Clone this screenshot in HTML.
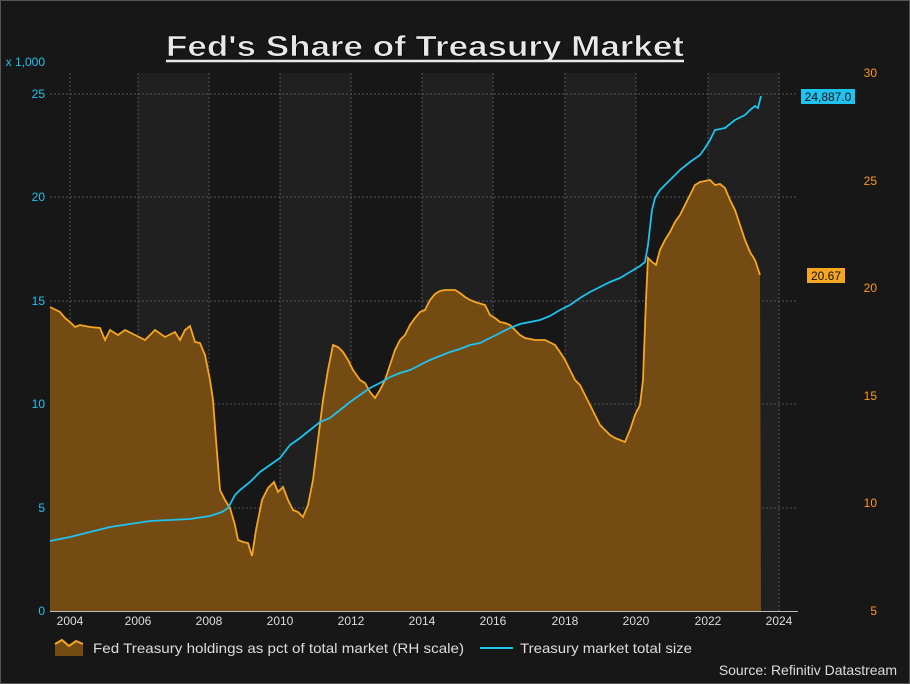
<!DOCTYPE html>
<html><head><meta charset="utf-8"><style>
html,body{margin:0;padding:0;background:#161616;}
svg{display:block;font-family:"Liberation Sans",sans-serif;}
</style></head><body>
<svg width="910" height="684" viewBox="0 0 910 684">
<rect x="0.5" y="0.5" width="909" height="683" fill="#171717" stroke="#555"/>
<g fill="#202020">
<rect x="138" y="73" width="71" height="538"/>
<rect x="280" y="73" width="71" height="538"/>
<rect x="422" y="73" width="71" height="538"/>
<rect x="565" y="73" width="71" height="538"/>
<rect x="708" y="73" width="71" height="538"/>
</g>
<g stroke="#555" stroke-dasharray="2,2" stroke-width="1">
<line x1="50" x2="798" y1="94" y2="94"/><line x1="50" x2="798" y1="197" y2="197"/>
<line x1="50" x2="798" y1="301" y2="301"/><line x1="50" x2="798" y1="404" y2="404"/>
<line x1="50" x2="798" y1="508" y2="508"/>
<line x1="70" x2="70" y1="73" y2="611"/><line x1="138" x2="138" y1="73" y2="611"/>
<line x1="209" x2="209" y1="73" y2="611"/><line x1="280" x2="280" y1="73" y2="611"/>
<line x1="351" x2="351" y1="73" y2="611"/><line x1="422" x2="422" y1="73" y2="611"/>
<line x1="493" x2="493" y1="73" y2="611"/><line x1="565" x2="565" y1="73" y2="611"/>
<line x1="636" x2="636" y1="73" y2="611"/><line x1="708" x2="708" y1="73" y2="611"/>
<line x1="779" x2="779" y1="73" y2="611"/>
</g>
<polygon fill="#744b12" stroke="none" points="50,611 50,307 60,312 65,318 70,322 75,327 80,325 90,327 100,328 105,340 110,330 118,335 125,330 135,335 145,340 155,330 165,337 175,332 180,340 185,330 190,326 195,342 200,343 205,355 210,380 213,400 216,440 220,490 225,500 230,508 235,525 238,540 243,542 248,543 252,556 256,530 262,500 268,488 274,482 278,492 283,487 288,500 293,510 298,512 303,517 308,505 313,480 318,440 323,400 328,370 333,345 338,347 343,352 348,360 353,370 360,380 365,383 370,392 375,398 380,390 385,380 390,365 395,350 400,340 405,335 410,325 415,318 420,312 425,310 430,300 435,294 440,291 445,290 455,290 460,293 465,297 470,300 475,302 485,305 490,315 495,318 500,322 505,323 510,325 515,330 520,335 525,338 535,340 545,340 555,345 560,352 565,360 570,370 575,380 580,385 585,395 590,405 595,415 600,425 605,430 610,435 615,438 620,440 625,442 630,430 635,415 640,405 643,380 646,300 648,258 652,262 656,265 660,250 665,240 670,232 675,222 680,215 685,205 690,195 695,185 700,182 705,181 710,180 715,185 720,184 725,188 730,200 735,210 740,225 745,240 750,252 755,260 760,275 761,611"/>
<polyline fill="none" stroke="#f5a623" stroke-width="1.8" points="50,307 60,312 65,318 70,322 75,327 80,325 90,327 100,328 105,340 110,330 118,335 125,330 135,335 145,340 155,330 165,337 175,332 180,340 185,330 190,326 195,342 200,343 205,355 210,380 213,400 216,440 220,490 225,500 230,508 235,525 238,540 243,542 248,543 252,556 256,530 262,500 268,488 274,482 278,492 283,487 288,500 293,510 298,512 303,517 308,505 313,480 318,440 323,400 328,370 333,345 338,347 343,352 348,360 353,370 360,380 365,383 370,392 375,398 380,390 385,380 390,365 395,350 400,340 405,335 410,325 415,318 420,312 425,310 430,300 435,294 440,291 445,290 455,290 460,293 465,297 470,300 475,302 485,305 490,315 495,318 500,322 505,323 510,325 515,330 520,335 525,338 535,340 545,340 555,345 560,352 565,360 570,370 575,380 580,385 585,395 590,405 595,415 600,425 605,430 610,435 615,438 620,440 625,442 630,430 635,415 640,405 643,380 646,300 648,258 652,262 656,265 660,250 665,240 670,232 675,222 680,215 685,205 690,195 695,185 700,182 705,181 710,180 715,185 720,184 725,188 730,200 735,210 740,225 745,240 750,252 755,260 760,275"/>
<polyline fill="none" stroke="#1ec3f0" stroke-width="1.8" points="50,541 70,537 90,532 110,527 130,524 150,521 170,520 190,519 210,516 222,512 228,508 235,495 240,490 250,482 260,472 270,465 280,458 290,445 300,438 310,430 320,422 330,418 340,410 350,402 360,395 370,388 380,383 390,377 400,373 410,370 420,365 430,360 440,356 450,352 460,349 470,345 480,343 490,338 500,333 510,328 520,324 530,322 540,320 550,316 560,310 570,305 580,298 590,292 600,287 610,282 620,278 630,272 640,266 645,262 648,245 652,210 655,198 660,190 670,180 680,170 690,162 700,155 705,148 710,140 715,130 725,128 735,120 745,115 750,110 755,106 758,108 761,96"/>
<line x1="50" x2="798" y1="611.5" y2="611.5" stroke="#bbb"/>
<g fill="#1ec3f0" font-size="12" text-anchor="end">
<text x="45" y="98">25</text><text x="45" y="201">20</text><text x="45" y="305">15</text>
<text x="45" y="408">10</text><text x="45" y="512">5</text><text x="45" y="615">0</text>
<text x="45" y="66">x 1,000</text>
</g>
<g fill="#ff9a1a" font-size="12" text-anchor="end">
<text x="877" y="77">30</text><text x="877" y="185">25</text><text x="877" y="292">20</text>
<text x="877" y="400">15</text><text x="877" y="507">10</text><text x="877" y="615">5</text>
</g>
<g fill="#ddd" font-size="12" text-anchor="middle">
<text x="70" y="625">2004</text><text x="138" y="625">2006</text><text x="209" y="625">2008</text>
<text x="280" y="625">2010</text><text x="351" y="625">2012</text><text x="422" y="625">2014</text>
<text x="493" y="625">2016</text><text x="565" y="625">2018</text><text x="636" y="625">2020</text>
<text x="708" y="625">2022</text><text x="779" y="625">2024</text>
</g>
<rect x="801" y="89" width="54" height="15" fill="#1ec3f0"/>
<text x="828" y="101" font-size="12" fill="#111" text-anchor="middle">24,887.0</text>
<rect x="807" y="268" width="38" height="15" fill="#f5a623"/>
<text x="826" y="280" font-size="12" fill="#111" text-anchor="middle">20.67</text>
<text x="166" y="56" font-size="29" font-weight="bold" fill="#e8e8e8" stroke="#000" stroke-width="0.6" textLength="518" lengthAdjust="spacingAndGlyphs">Fed's Share of Treasury Market</text>
<line x1="166" x2="684" y1="61" y2="61" stroke="#e8e8e8" stroke-width="2.5"/>
<polygon points="55,656 55,644 62,640 69,646 76,641 83,644 83,656" fill="#744b12"/>
<polyline points="55,644 62,640 69,646 76,641 83,644" fill="none" stroke="#f5a623" stroke-width="2"/>
<text x="93" y="653" font-size="14" fill="#ddd" textLength="371" lengthAdjust="spacingAndGlyphs">Fed Treasury holdings as pct of total market (RH scale)</text>
<line x1="480" x2="513" y1="648" y2="648" stroke="#1ec3f0" stroke-width="2"/>
<text x="520" y="653" font-size="14" fill="#ddd" textLength="172" lengthAdjust="spacingAndGlyphs">Treasury market total size</text>
<text x="897" y="675" font-size="14" fill="#ddd" text-anchor="end">Source: Refinitiv Datastream</text>
</svg>
</body></html>
